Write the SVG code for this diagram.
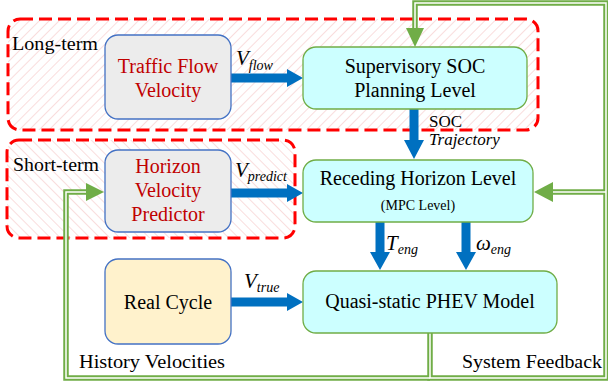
<svg xmlns="http://www.w3.org/2000/svg" width="608" height="388" viewBox="0 0 608 388">
  <defs>
    <pattern id="hatchA" width="7" height="7" patternUnits="userSpaceOnUse" patternTransform="rotate(45)">
      <line x1="0" y1="0" x2="0" y2="7" stroke="#f2b3b3" stroke-width="0.9"/>
    </pattern>
    <pattern id="hatchB" width="7" height="7" patternUnits="userSpaceOnUse" patternTransform="rotate(-45)">
      <line x1="0" y1="0" x2="0" y2="7" stroke="#f2b3b3" stroke-width="0.9"/>
    </pattern>
    <style>
      .region { stroke: #ff0000; stroke-width: 3; stroke-dasharray: 13 6; }
      .box { stroke-width: 1.3; }
      .gray { fill: #ececec; stroke: #4472c4; }
      .cyan { fill: #ccffff; stroke: #70ad47; }
      .beige { fill: #fff2cc; stroke: #4472c4; }
      text { font-family: Tinos, "Liberation Serif", "Times New Roman", Times, "Nimbus Roman", "Nimbus Roman No9 L", FreeSerif, "Noto Serif", "DejaVu Serif", serif; fill: #000; }
      .lbl { font-size: 20px; text-anchor: middle; }
      .red { fill: #c00000; }
      .side { font-size: 18px; }
      .it { font-style: italic; }
      .blue { fill: #0070c0; }
      .gOut { fill: none; stroke: #70ad47; stroke-width: 5.5; stroke-linejoin: miter; }
      .gIn { fill: none; stroke: #ffffff; stroke-width: 1.5; stroke-linejoin: miter; }
      .gHead { fill: #70ad47; }
    </style>
  </defs>

  <rect width="608" height="388" fill="#ffffff"/>

  <!-- planning horizons -->
  <g id="long-term">
    <rect x="8" y="19" width="530" height="111" rx="12" fill="url(#hatchA)" class="region"/>
    <text x="12" y="50" class="side" textLength="86" lengthAdjust="spacingAndGlyphs">Long-term</text>
  </g>
  <g id="short-term">
    <rect x="7" y="140" width="288" height="98" rx="12" fill="url(#hatchB)" class="region"/>
    <text x="13" y="171" class="side" textLength="86" lengthAdjust="spacingAndGlyphs">Short-term</text>
  </g>

  <!-- connectors -->
  <g id="connectors">
    <!-- feedback loops (double green lines) -->
    <path class="gOut" d="M430,333 V378 H606 V3 H415 V30"/>
    <path class="gOut" d="M606,192 H552"/>
    <path class="gOut" d="M430,378 H66 V192 H87"/>
    <path class="gIn" d="M430,333 V378 H606 V3 H415 V30"/>
    <path class="gIn" d="M606,192 H552"/>
    <path class="gIn" d="M430,378 H66 V192 H87"/>
    <polygon class="gHead" points="406,28 424,28 415,47"/>
    <polygon class="gHead" points="553,182 553,202 534,192"/>
    <polygon class="gHead" points="86,183 86,201 104,192"/>

    <!-- signal arrows -->
    <polygon class="blue" points="231,73.5 287,73.5 287,69 303,78 287,87 287,82.5 231,82.5"/>
    <polygon class="blue" points="231,188.5 287,188.5 287,184 303,193 287,202 287,197.5 231,197.5"/>
    <polygon class="blue" points="231,297.5 287,297.5 287,293 303,302 287,311 287,306.5 231,306.5"/>
    <polygon class="blue" points="409.5,109 418.5,109 418.5,140 424,140 414,159 404,140 409.5,140"/>
    <polygon class="blue" points="375.5,222 384.5,222 384.5,252 390,252 380,270 370,252 375.5,252"/>
    <polygon class="blue" points="461.5,222 470.5,222 470.5,252 476,252 466,270 456,252 461.5,252"/>

    <!-- signal labels -->
    <text x="236" y="65" class="it" font-size="21">V<tspan font-size="14" dy="5">flow</tspan></text>
    <text x="235" y="177" class="it" font-size="21">V<tspan font-size="14" dy="4">predict</tspan></text>
    <text x="244" y="288" class="it" font-size="21">V<tspan font-size="14" dy="4">true</tspan></text>
    <text x="429" y="127" font-size="17">SOC</text>
    <text x="429" y="145" class="it" font-size="17">Trajectory</text>
    <text x="386" y="250" class="it" font-size="21">T<tspan font-size="14" dy="4">eng</tspan></text>
    <text x="476" y="250" class="it" font-size="21">ω<tspan font-size="14" dy="4">eng</tspan></text>
    <text x="79" y="368" class="side" textLength="146" lengthAdjust="spacingAndGlyphs">History Velocities</text>
    <text x="462" y="368" class="side" textLength="140" lengthAdjust="spacingAndGlyphs">System Feedback</text>
  </g>

  <!-- nodes -->
  <g id="traffic-flow">
    <rect x="105" y="35" width="126" height="84" rx="13" class="box gray"/>
    <text x="168" y="73" class="lbl red">Traffic Flow</text>
    <text x="168" y="97" class="lbl red">Velocity</text>
  </g>
  <g id="supervisory">
    <rect x="303" y="47" width="224" height="62" rx="13" class="box cyan"/>
    <text x="415" y="73" class="lbl">Supervisory SOC</text>
    <text x="415" y="97" class="lbl">Planning Level</text>
  </g>
  <g id="predictor">
    <rect x="105" y="150" width="126" height="82" rx="13" class="box gray"/>
    <text x="168" y="173" class="lbl red">Horizon</text>
    <text x="168" y="197" class="lbl red">Velocity</text>
    <text x="168" y="221" class="lbl red">Predictor</text>
  </g>
  <g id="receding">
    <rect x="303" y="160" width="230" height="62" rx="13" class="box cyan"/>
    <text x="418" y="185" class="lbl">Receding Horizon Level</text>
    <text x="418" y="210" font-size="14" text-anchor="middle">(MPC Level)</text>
  </g>
  <g id="real-cycle">
    <rect x="105" y="259" width="126" height="85" rx="13" class="box beige"/>
    <text x="168" y="309" class="lbl">Real Cycle</text>
  </g>
  <g id="phev-model">
    <rect x="303" y="271" width="254" height="62" rx="13" class="box cyan"/>
    <text x="430" y="308" class="lbl">Quasi-static PHEV Model</text>
  </g>
</svg>
